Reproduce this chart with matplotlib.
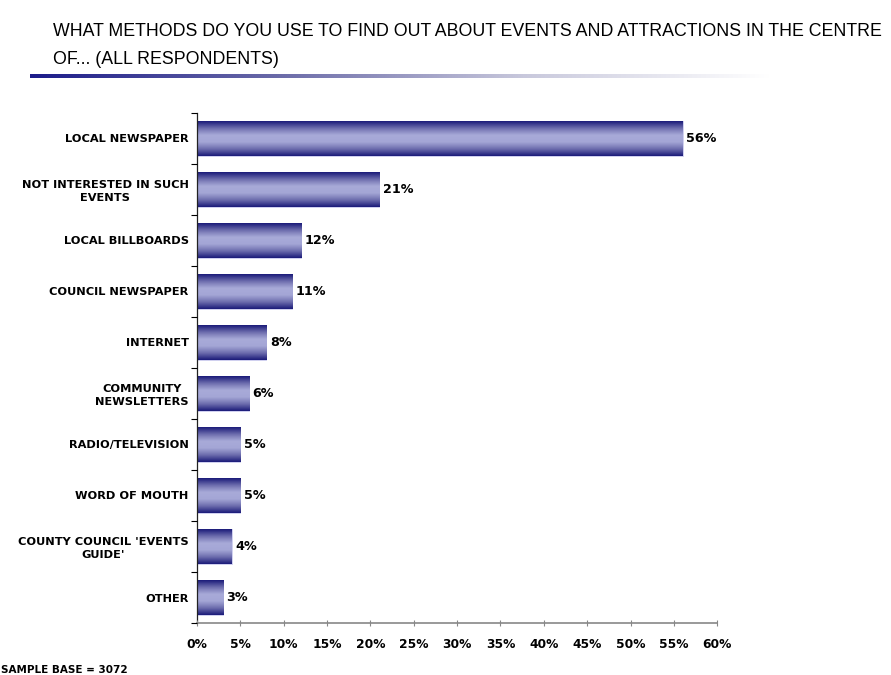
import numpy as np
import matplotlib
matplotlib.use("Agg")
import matplotlib.pyplot as plt
from matplotlib.colors import LinearSegmentedColormap
from matplotlib.ticker import MultipleLocator, FuncFormatter

categories = [
    "LOCAL NEWSPAPER",
    "NOT INTERESTED IN SUCH\nEVENTS",
    "LOCAL BILLBOARDS",
    "COUNCIL NEWSPAPER",
    "INTERNET",
    "COMMUNITY\nNEWSLETTERS",
    "RADIO/TELEVISION",
    "WORD OF MOUTH",
    "COUNTY COUNCIL 'EVENTS\nGUIDE'",
    "OTHER",
]
values = [56, 21, 12, 11, 8, 6, 5, 5, 4, 3]
title = ("WHAT METHODS DO YOU USE TO FIND OUT ABOUT EVENTS AND ATTRACTIONS IN THE CENTRE\n"
         "OF... (ALL RESPONDENTS)")
footnote = "SAMPLE BASE = 3072"

fig = plt.figure(figsize=(8.91, 6.75), dpi=100)
ax = fig.add_axes([0.221, 0.077, 0.584, 0.756])

bar_cmap = LinearSegmentedColormap.from_list(
    "barshade", ["#1c1c7a", "#6e6eae", "#a4a6d6", "#a8aad8", "#6e6eae", "#1c1c7a"])
grad = np.linspace(0, 1, 64).reshape(-1, 1)

n = len(categories)
ypos = np.arange(n)
bar_h = 0.68
bars = ax.barh(ypos, values, height=bar_h, color="none", edgecolor="#c8c8ec", linewidth=0.6)
for b, v in zip(bars, values):
    x0, y0 = b.get_x(), b.get_y()
    w, h = b.get_width(), b.get_height()
    im = ax.imshow(grad, cmap=bar_cmap, aspect="auto", interpolation="bilinear",
                   extent=[x0, x0 + w, y0, y0 + h], zorder=2)
    im.set_clip_path(b)
    ax.text(v + 0.4, b.get_y() + h / 2, f"{v}%", va="center", ha="left",
            fontsize=9.2, fontweight="bold", family="DejaVu Sans")

ax.set_xlim(0, 60)
ax.set_ylim(n - 0.5, -0.5)
ax.xaxis.set_major_locator(MultipleLocator(5))
ax.xaxis.set_major_formatter(FuncFormatter(lambda x, p: f"{x:.0f}%"))
ax.set_yticks(ypos)
ax.set_yticklabels(categories, fontsize=8.2, fontweight="bold", ha="right",
                   multialignment="center", linespacing=1.3)
ax.tick_params(axis="y", length=0, pad=6)
ax.set_yticks(np.arange(-0.5, n, 1), minor=True)
ax.tick_params(axis="y", which="minor", length=4, direction="out", width=0.8)
ax.tick_params(axis="x", length=5, direction="inout", width=0.8, color="#888888",
               labelsize=8.8, pad=8)
for lbl in ax.get_xticklabels():
    lbl.set_fontweight("bold")

for s in ["top", "right"]:
    ax.spines[s].set_visible(False)
ax.spines["left"].set_color("#222222")
ax.spines["bottom"].set_color("#888888")
ax.spines["left"].set_linewidth(0.9)
ax.spines["bottom"].set_linewidth(1.2)
ax.set_axisbelow(False)

fig.text(0.06, 0.966, title, fontsize=12.8, va="top", ha="left",
         family=["Liberation Sans", "DejaVu Sans"], linespacing=1.85)

# underline rule fading from navy to white
line_ax = fig.add_axes([0.034, 0.884, 0.83, 0.006])
line_cmap = LinearSegmentedColormap.from_list("rule", ["#1c1c8a", "#6a6aa8", "#c8c8dc", "#ffffff"])
line_ax.imshow(np.linspace(0, 1, 256).reshape(1, -1), cmap=line_cmap, aspect="auto")
line_ax.axis("off")

fig.text(0.001, 0.009, footnote, fontsize=7.5, fontweight="bold", va="center_baseline", ha="left")

fig.savefig("out.png", dpi=100)
